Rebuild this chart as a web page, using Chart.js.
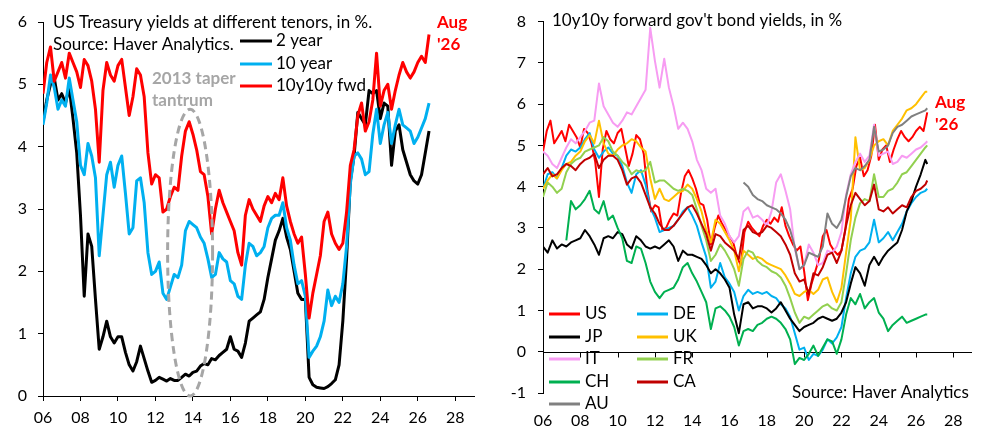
<!DOCTYPE html>
<html>
<head>
<meta charset="utf-8">
<script src="https://cdn.jsdelivr.net/npm/chart.js@4.4.1/dist/chart.umd.min.js"></script>
<style>
  html, body { margin:0; padding:0; background:#fff; }
  #wrap { position:relative; width:985px; height:439px; overflow:hidden; }
  .panel { position:absolute; top:0; width:490px; height:439px; }
  #left { left:0; }
  #right { left:495px; }
</style>
</head>
<body>
<div id="wrap">
  <div class="panel" id="left"><canvas id="ust" width="490" height="439" style="width:490px;height:439px"></canvas></div>
  <div class="panel" id="right"><canvas id="fwd" width="490" height="439" style="width:490px;height:439px"></canvas></div>
</div>
<script>
// --- Data ---

// left panel: US Treasury yields, one row per year
const ustYears = [
  2006, 2006.2, 2006.4, 2006.6, 2006.8,
  2007, 2007.2, 2007.4, 2007.6, 2007.8,
  2008, 2008.2, 2008.4, 2008.6, 2008.8,
  2009, 2009.2, 2009.4, 2009.6, 2009.8,
  2010, 2010.2, 2010.4, 2010.6, 2010.8,
  2011, 2011.2, 2011.4, 2011.6, 2011.8,
  2012, 2012.2, 2012.4, 2012.6, 2012.8,
  2013, 2013.2, 2013.4, 2013.6, 2013.8,
  2014, 2014.2, 2014.4, 2014.6, 2014.8,
  2015, 2015.2, 2015.4, 2015.6, 2015.8,
  2016, 2016.2, 2016.4, 2016.6, 2016.8,
  2017, 2017.2, 2017.4, 2017.6, 2017.8,
  2018, 2018.2, 2018.4, 2018.6, 2018.8,
  2019, 2019.2, 2019.4, 2019.6, 2019.8,
  2020, 2020.2, 2020.4, 2020.6, 2020.8,
  2021, 2021.2, 2021.4, 2021.6, 2021.8,
  2022, 2022.2, 2022.4, 2022.6, 2022.8,
  2023, 2023.2, 2023.4, 2023.6, 2023.8,
  2024, 2024.2, 2024.4, 2024.6, 2024.8,
  2025, 2025.2, 2025.4, 2025.6, 2025.8,
  2026, 2026.2, 2026.4, 2026.6
];
const ust2y = [
  4.40, 4.75, 5.00, 5.10, 4.75,
  4.85, 4.70, 4.95, 4.45, 3.90,
  2.90, 1.60, 2.60, 2.40, 1.55,
  0.75, 0.95, 1.20, 0.95, 0.85,
  0.95, 0.95, 0.70, 0.50, 0.40,
  0.55, 0.80, 0.60, 0.40, 0.22,
  0.25, 0.30, 0.27, 0.24, 0.28,
  0.25, 0.25, 0.30, 0.35, 0.32,
  0.38, 0.40, 0.48, 0.52, 0.50,
  0.60, 0.58, 0.65, 0.70, 0.75,
  0.95, 0.75, 0.72, 0.62, 0.85,
  1.20, 1.25, 1.30, 1.35, 1.55,
  1.90, 2.20, 2.50, 2.65, 2.85,
  2.55, 2.35, 2.00, 1.65, 1.55,
  1.55, 0.30, 0.18, 0.14, 0.13,
  0.12, 0.15, 0.20, 0.26, 0.50,
  1.20, 2.20, 3.45, 3.85, 4.55,
  4.45, 4.35, 4.90, 4.85, 4.90,
  4.45, 4.70, 4.65, 3.70, 4.25,
  4.35, 3.95, 3.75, 3.55, 3.45,
  3.40, 3.55, 3.90, 4.25
];
const ust10y = [
  4.35, 4.70, 5.15, 4.95, 4.60,
  4.75, 4.65, 5.10, 4.75, 4.40,
  3.70, 3.55, 4.05, 3.85, 3.50,
  2.25, 2.90, 3.55, 3.75, 3.35,
  3.70, 3.85, 3.25, 2.60, 2.70,
  3.45, 3.50, 3.10, 2.30, 1.95,
  2.00, 2.15, 1.65, 1.55, 1.75,
  1.95, 1.90, 2.10, 2.65, 2.80,
  2.75, 2.70, 2.55, 2.45, 2.20,
  1.90, 1.95, 2.30, 2.20, 2.15,
  1.85, 1.80, 1.60, 1.55, 2.10,
  2.45, 2.40, 2.25, 2.30, 2.40,
  2.70, 2.85, 2.90, 2.90, 3.10,
  2.70, 2.50, 2.10, 1.80, 1.85,
  1.60, 0.62, 0.72, 0.80, 0.95,
  1.20, 1.70, 1.45, 1.60, 1.50,
  1.80, 2.40, 3.40, 3.85, 3.90,
  3.80, 3.55, 3.60, 4.20, 4.60,
  4.05, 4.35, 4.55, 4.05, 4.35,
  4.60, 4.35, 4.30, 4.25, 4.05,
  4.15, 4.30, 4.45, 4.70
];
const ust10y10y = [
  4.85, 5.35, 5.60, 5.05, 5.20,
  5.35, 5.10, 5.50, 5.35, 5.20,
  4.95, 5.40, 5.30, 5.05, 4.60,
  3.75, 4.90, 5.35, 5.15, 5.05,
  5.30, 5.40, 4.95, 4.50, 4.80,
  5.25, 5.15, 4.80, 3.90, 3.40,
  3.55, 3.50, 2.95, 3.00, 3.20,
  3.35, 3.30, 3.85, 4.25, 4.40,
  4.20, 3.95, 3.60, 3.55, 3.20,
  2.60, 3.00, 3.30, 3.10, 2.95,
  2.80, 2.65, 2.30, 2.10, 2.90,
  3.15, 3.00, 2.90, 2.80, 3.05,
  3.20, 3.10, 3.25, 3.15, 3.50,
  3.05, 2.80, 2.60, 2.45, 2.55,
  1.95, 1.25, 1.65, 1.95, 2.25,
  2.80, 2.95, 2.60, 2.45, 2.35,
  2.45, 2.95, 3.70, 3.95, 4.50,
  4.70, 4.25, 4.40, 4.75, 5.50,
  4.65, 4.90, 5.00, 4.60, 4.90,
  5.15, 5.35, 5.20, 5.10, 5.20,
  5.35, 5.45, 5.35, 5.80
];

// right panel: 10y10y forwards, quarterly, one row per year (US reuses ust10y10y)
const fwdYears = [
  2006, 2006.25, 2006.5, 2006.75,
  2007, 2007.25, 2007.5, 2007.75,
  2008, 2008.25, 2008.5, 2008.75,
  2009, 2009.25, 2009.5, 2009.75,
  2010, 2010.25, 2010.5, 2010.75,
  2011, 2011.25, 2011.5, 2011.75,
  2012, 2012.25, 2012.5, 2012.75,
  2013, 2013.25, 2013.5, 2013.75,
  2014, 2014.25, 2014.5, 2014.75,
  2015, 2015.25, 2015.5, 2015.75,
  2016, 2016.25, 2016.5, 2016.75,
  2017, 2017.25, 2017.5, 2017.75,
  2018, 2018.25, 2018.5, 2018.75,
  2019, 2019.25, 2019.5, 2019.75,
  2020, 2020.25, 2020.5, 2020.75,
  2021, 2021.25, 2021.5, 2021.75,
  2022, 2022.25, 2022.5, 2022.75,
  2023, 2023.25, 2023.5, 2023.75,
  2024, 2024.25, 2024.5, 2024.75,
  2025, 2025.25, 2025.5, 2025.75,
  2026, 2026.25, 2026.5, 2026.6
];
const fwdDE = [
  3.95, 4.30, 4.35, 4.20,
  4.45, 4.75, 4.90, 4.85,
  4.95, 5.15, 5.30, 4.90,
  4.70, 4.85, 4.95, 4.80,
  4.75, 4.50, 4.10, 3.85,
  4.30, 4.40, 4.05, 3.50,
  3.25, 2.90, 2.95, 3.00,
  3.05, 3.20, 3.40, 3.50,
  3.30, 3.05, 2.65, 2.30,
  1.55, 1.70, 2.15, 1.80,
  1.65, 1.45, 1.00, 1.35,
  1.50, 1.40, 1.45, 1.40,
  1.45, 1.35, 1.30, 1.15,
  1.05, 0.85, 0.45, 0.05,
  0.10, -0.20, -0.05, -0.10,
  0.05, 0.30, 0.20, 0.35,
  0.60, 1.30, 1.90, 2.30,
  2.45, 2.50, 2.65, 3.20,
  2.65, 2.75, 2.90, 2.70,
  2.90, 3.10, 3.40, 3.60,
  3.75, 3.85, 3.90, 3.95
];
const fwdJP = [
  2.55, 2.40, 2.70, 2.50,
  2.60, 2.55, 2.65, 2.70,
  2.75, 2.95, 2.80, 2.60,
  2.35, 2.75, 2.80, 2.75,
  2.90, 2.85, 2.60, 2.50,
  2.80, 2.70, 2.55, 2.50,
  2.55, 2.50, 2.60, 2.70,
  2.55, 2.20, 2.45, 2.35,
  2.35, 2.30, 2.25, 2.10,
  1.90, 2.00, 1.90, 1.75,
  1.55, 0.90, 0.45, 1.15,
  1.20, 1.05, 1.10, 1.10,
  1.05, 0.95, 1.05, 1.20,
  1.00, 0.80, 0.65, 0.50,
  0.60, 0.65, 0.70, 0.80,
  0.85, 0.80, 0.75, 0.80,
  0.95, 1.20, 1.65, 2.05,
  1.90, 1.60, 2.10, 2.30,
  2.10, 2.30, 2.45, 2.55,
  2.65, 2.95, 3.40, 3.65,
  4.00, 4.30, 4.65, 4.55
];
const fwdUK = [
  3.95, 4.15, 4.30, 4.20,
  4.40, 4.55, 4.60, 4.75,
  4.85, 5.10, 5.25, 5.05,
  5.60, 5.05, 4.80, 4.75,
  4.90, 5.00, 5.05, 5.15,
  5.10, 4.95, 4.85, 4.20,
  3.70, 3.95, 3.70, 3.65,
  3.75, 3.85, 3.90, 4.05,
  3.95, 3.70, 3.40, 2.95,
  2.65, 3.20, 3.10, 2.90,
  2.70, 2.45, 1.95, 2.45,
  2.35, 2.25, 2.30, 2.25,
  2.15, 2.10, 2.05, 2.00,
  1.85, 1.65, 1.40, 1.35,
  1.45, 1.50, 1.40, 1.50,
  1.75, 1.80, 1.45, 1.20,
  1.55, 2.40, 3.20, 5.20,
  4.40, 4.45, 4.65, 5.00,
  5.10, 5.15, 5.00, 5.35,
  5.50, 5.65, 5.85, 5.90,
  6.00, 6.15, 6.30, 6.30
];
const fwdIT = [
  4.85, 4.75, 4.55, 4.45,
  4.70, 4.95, 5.15, 5.05,
  5.20, 5.35, 5.55, 5.60,
  6.50, 5.95, 5.75, 5.55,
  5.45, 5.60, 5.80, 5.75,
  5.95, 6.15, 6.35, 7.85,
  7.05, 6.40, 7.10, 6.40,
  5.95, 5.40, 5.55, 5.40,
  5.10, 4.65, 4.40, 3.95,
  3.85, 3.95, 3.30, 3.10,
  2.80, 2.65, 2.80, 3.40,
  3.50, 3.25, 3.30, 3.20,
  3.05, 3.40, 4.10, 4.30,
  3.90, 3.45, 2.50, 2.00,
  2.10, 2.60, 2.40, 2.10,
  2.15, 2.45, 2.40, 2.55,
  2.90, 3.80, 4.30, 4.60,
  4.80, 4.60, 4.75, 5.50,
  4.75, 4.80, 4.85, 4.55,
  4.60, 4.75, 4.70, 4.80,
  4.90, 4.95, 5.05, 5.10
];
const fwdFR = [
  3.75, 4.10, 4.00, 3.85,
  3.95, 4.35, 4.55, 4.65,
  4.70, 4.85, 4.90, 4.95,
  5.00, 5.20, 5.10, 4.85,
  4.75, 4.60, 4.50, 4.30,
  4.40, 4.35, 4.40, 4.60,
  4.10, 4.15, 4.15, 4.05,
  3.95, 3.90, 3.95, 3.90,
  3.80, 3.45, 3.05, 2.70,
  2.20, 2.35, 2.60, 2.45,
  2.25, 2.00, 1.60, 2.25,
  2.45, 2.40, 2.20, 2.10,
  2.05, 1.95, 1.90, 1.80,
  1.60, 1.30, 0.95, 0.70,
  0.85, 0.80, 0.90, 1.00,
  1.10, 1.15, 1.05, 1.00,
  1.20, 1.90, 2.70, 3.25,
  3.60, 3.70, 3.65, 4.30,
  3.75, 3.75, 3.90, 3.95,
  4.10, 4.30, 4.35, 4.50,
  4.65, 4.80, 4.95, 5.00
];
const fwdCH = [
  null, null, null, null,
  null, 2.70, 3.65, 3.45,
  3.55, 3.70, 3.90, 3.45,
  3.35, 3.65, 3.20, 3.30,
  3.00, 2.75, 2.20, 2.15,
  2.55, 2.50, 2.15, 1.70,
  1.45, 1.30, 1.45, 1.50,
  1.55, 1.75, 2.05, 2.15,
  1.90, 1.70, 1.45, 1.20,
  0.55, 1.05, 1.10, 1.00,
  0.85, 0.60, 0.15, 0.50,
  0.55, 0.50, 0.65, 0.70,
  0.80, 0.85, 0.80, 0.70,
  0.55, 0.30, -0.30, -0.15,
  -0.20, -0.05, 0.15, -0.10,
  0.10, 0.30, 0.25, -0.05,
  0.30, 0.90, 1.30, 1.15,
  1.40, 1.05, 1.20, 1.30,
  0.95, 0.80, 0.50, 0.65,
  0.75, 0.85, 0.70, 0.75,
  0.80, 0.85, 0.90, 0.90
];
const fwdCA = [
  4.30, 4.45, 4.25, 4.30,
  4.45, 4.55, 4.50, 4.40,
  4.55, 4.65, 4.70, 4.80,
  4.45, 4.65, 4.75, 4.75,
  4.65, 4.40, 4.05, 4.20,
  4.25, 4.10, 3.80, 3.50,
  3.35, 3.10, 2.95, 2.95,
  3.05, 3.20, 3.35, 3.50,
  3.55, 3.35, 3.10, 2.85,
  2.45, 2.85, 2.80, 2.65,
  2.55, 2.45, 2.25, 2.95,
  3.05, 2.90, 2.85, 2.90,
  3.05, 3.00, 2.90, 2.80,
  2.60, 2.35, 1.90, 1.70,
  1.75, 1.40, 1.90, 1.85,
  2.05, 2.35, 2.40, 2.15,
  2.45, 3.05, 3.55, 3.85,
  3.70, 3.55, 3.65, 4.05,
  3.45, 3.40, 3.50, 3.35,
  3.45, 3.55, 3.50, 3.75,
  3.90, 3.95, 4.05, 4.15
];
const fwdAU = [
  null, null, null, null,
  null, null, null, null,
  null, null, null, null,
  null, null, null, null,
  null, null, null, null,
  null, null, null, null,
  null, null, null, null,
  null, null, null, null,
  null, null, null, null,
  null, null, null, null,
  null, null, null, 4.10,
  4.00, 3.80, 3.70, 3.65,
  3.55, 3.50, 3.45, 3.35,
  3.20, 2.95, 2.55, 2.00,
  2.10, 2.40, 2.35, 2.30,
  2.55, 3.35, 3.10, 3.00,
  3.20, 3.75, 4.25, 4.45,
  4.40, 4.50, 4.65, 5.45,
  4.85, 4.90, 5.00, 5.30,
  5.45, 5.50, 5.60, 5.70,
  5.75, 5.80, 5.85, 5.90
];

const xTickYears = [2006, 2008, 2010, 2012, 2014, 2016, 2018, 2020, 2022, 2024, 2026, 2028];
const ustYTicks = [0, 1, 2, 3, 4, 5, 6];
const fwdYTicks = [-1, 0, 1, 2, 3, 4, 5, 6, 7, 8];

// dashed "taper tantrum" ellipse, in data units
const taper = { x: 2013.85, y: 2.3, rx: 1.2, ry: 2.3 };

// --- Helpers ---
const FONT = 'Lato, "Open Sans", sans-serif';
const TXT = `17px ${FONT}`;
const BOLD = `bold 17px ${FONT}`;
const pairs = (xs, ys) => xs.map((x, i) => ({ x, y: ys[i] }));
const twoDigit = (v) => String(v).slice(2);

const notesPlugin = {
  id: 'notes',
  afterDraw(chart, args, opts){
    const ctx = chart.ctx;
    (opts.items || []).forEach(t => {
      ctx.save();
      ctx.font = t.font || TXT;
      ctx.fillStyle = t.color || '#000';
      ctx.textAlign = 'left'; ctx.textBaseline = 'middle';
      ctx.fillText(t.text, t.x, t.y);
      ctx.restore();
    });
  }
};

const keyPlugin = {
  id: 'key',
  afterDraw(chart, args, opts){
    const ctx = chart.ctx;
    (opts.items || []).forEach(k => {
      const ds = chart.data.datasets[k.ds];
      ctx.save();
      ctx.strokeStyle = ds.borderColor; ctx.lineWidth = opts.lineWidth;
      ctx.beginPath(); ctx.moveTo(k.x, k.y); ctx.lineTo(k.x + opts.len, k.y); ctx.stroke();
      ctx.font = opts.font; ctx.fillStyle = '#000';
      ctx.textAlign = 'left'; ctx.textBaseline = 'middle';
      ctx.fillText(ds.label, k.x + opts.len + opts.gap, k.y);
      ctx.restore();
    });
  }
};

const taperPlugin = {
  id: 'taper',
  afterDatasetsDraw(chart){
    const { x, y } = chart.scales; const ctx = chart.ctx;
    const cx = x.getPixelForValue(taper.x), cy = y.getPixelForValue(taper.y);
    const rx = Math.abs(x.getPixelForValue(taper.x + taper.rx) - cx);
    const ry = Math.abs(y.getPixelForValue(taper.y + taper.ry) - cy);
    ctx.save();
    ctx.setLineDash([8, 5]); ctx.lineWidth = 3; ctx.strokeStyle = '#A6A6A6';
    ctx.beginPath(); ctx.ellipse(cx, cy, rx, ry, 0, 0, Math.PI * 2); ctx.stroke();
    ctx.restore();
  }
};

// right panel: horizontal axis sits at y = 0, labels stay at the bottom
const zeroAxisPlugin = {
  id: 'zeroAxis',
  beforeDatasetsDraw(chart){
    const { x, y } = chart.scales; const ctx = chart.ctx;
    const y0 = Math.round(y.getPixelForValue(0)) + 0.5;
    ctx.save();
    ctx.strokeStyle = '#000'; ctx.lineWidth = 1;
    ctx.beginPath();
    ctx.moveTo(chart.chartArea.left, y0); ctx.lineTo(chart.chartArea.right, y0);
    xTickYears.forEach(v => {
      const px = Math.round(x.getPixelForValue(v)) + 0.5;
      ctx.moveTo(px, y0); ctx.lineTo(px, y0 + 5);
    });
    ctx.stroke();
    ctx.restore();
  }
};

function yAxis(min, max, ticks, width, pad){
  return {
    type: 'linear', min, max,
    afterBuildTicks: s => { s.ticks = ticks.map(v => ({ value: v })); },
    afterFit: s => { s.width = width; },
    ticks: { color: '#000', font: { family: FONT, size: 16 }, padding: pad },
    grid: { drawOnChartArea: false, drawTicks: true, tickLength: 5, color: '#000' },
    border: { display: true, color: '#000', width: 1 }
  };
}

function lineSet(label, xs, ys, color, width, order){
  return {
    label, data: pairs(xs, ys), borderColor: color, backgroundColor: color,
    borderWidth: width, pointRadius: 0, tension: 0, fill: false, order,
    borderJoinStyle: 'round', spanGaps: false
  };
}

const baseOptions = {
  responsive: false, animation: false,
  events: [],
  plugins: { legend: { display: false }, tooltip: { enabled: false }, title: { display: false } }
};

// -------- Left: US Treasury yields --------
new Chart(document.getElementById('ust'), {
  type: 'line',
  data: { datasets: [
    lineSet('2 year', ustYears, ust2y, '#000000', 3, 0),
    lineSet('10 year', ustYears, ust10y, '#00B0F0', 3, -1),
    lineSet('10y10y fwd', ustYears, ust10y10y, '#FF0000', 3, -2)
  ]},
  options: {
    ...baseOptions,
    layout: { padding: { top: 22, right: 16, left: 0, bottom: 0 } },
    scales: {
      x: {
        type: 'linear', min: 2006, max: 2029,
        afterBuildTicks: s => { s.ticks = xTickYears.map(v => ({ value: v })); },
        afterFit: s => { s.height = 43; },
        ticks: { color: '#000', font: { family: FONT, size: 16 }, padding: 7, maxRotation: 0, autoSkip: false, callback: twoDigit },
        grid: { drawOnChartArea: false, drawTicks: true, tickLength: 5, color: '#000' },
        border: { display: true, color: '#000', width: 1 }
      },
      y: yAxis(0, 6, ustYTicks, 43, 11)
    },
    plugins: {
      ...baseOptions.plugins,
      notes: { items: [
        { text: 'US Treasury yields at different tenors, in %.', x: 53, y: 23 },
        { text: 'Source: Haver Analytics.', x: 53, y: 45 },
        { text: '2013 taper', x: 152, y: 79, color: '#A6A6A6', font: BOLD },
        { text: 'tantrum', x: 152, y: 101, color: '#A6A6A6', font: BOLD },
        { text: 'Aug', x: 437, y: 23, color: '#FF0000', font: BOLD },
        { text: "'26", x: 437, y: 45, color: '#FF0000', font: BOLD }
      ]},
      key: {
        len: 32, gap: 4, lineWidth: 3, font: TXT,
        items: [ { ds: 0, x: 240, y: 41 }, { ds: 1, x: 240, y: 64 }, { ds: 2, x: 240, y: 86 } ]
      }
    }
  },
  plugins: [taperPlugin, keyPlugin, notesPlugin]
});

// -------- Right: 10y10y forwards --------
const fwdColors = {
  US: '#FF0000', DE: '#00B0F0', JP: '#000000', UK: '#FFC000', IT: '#F79CF2',
  FR: '#92D050', CH: '#00B050', CA: '#C00000', AU: '#808080'
};

new Chart(document.getElementById('fwd'), {
  type: 'line',
  data: { datasets: [
    lineSet('US', ustYears, ust10y10y, fwdColors.US, 2, 0),
    lineSet('DE', fwdYears, fwdDE, fwdColors.DE, 2, -1),
    lineSet('JP', fwdYears, fwdJP, fwdColors.JP, 2, -2),
    lineSet('UK', fwdYears, fwdUK, fwdColors.UK, 2, -3),
    lineSet('IT', fwdYears, fwdIT, fwdColors.IT, 2, -4),
    lineSet('FR', fwdYears, fwdFR, fwdColors.FR, 2, -5),
    lineSet('CH', fwdYears, fwdCH, fwdColors.CH, 2, -6),
    lineSet('CA', fwdYears, fwdCA, fwdColors.CA, 2, -7),
    lineSet('AU', fwdYears, fwdAU, fwdColors.AU, 2, -8)
  ]},
  options: {
    ...baseOptions,
    layout: { padding: { top: 19, right: 13, left: 0, bottom: 0 } },
    scales: {
      x: {
        type: 'linear', min: 2006, max: 2029,
        afterBuildTicks: s => { s.ticks = xTickYears.map(v => ({ value: v })); },
        afterFit: s => { s.height = 46; },
        ticks: { color: '#000', font: { family: FONT, size: 16 }, padding: 18, maxRotation: 0, autoSkip: false, callback: twoDigit },
        grid: { display: false, drawTicks: false },
        border: { display: false }
      },
      y: yAxis(-1, 8, fwdYTicks, 48, 12)
    },
    plugins: {
      ...baseOptions.plugins,
      notes: { items: [
        { text: "10y10y forward gov't bond yields, in %", x: 57, y: 21 },
        { text: 'Source: Haver Analytics', x: 297, y: 393 },
        { text: 'Aug', x: 440, y: 103, color: '#FF0000', font: BOLD },
        { text: "'26", x: 440, y: 125, color: '#FF0000', font: BOLD }
      ]},
      key: {
        len: 31, gap: 5, lineWidth: 3, font: TXT,
        items: [
          { ds: 0, x: 54, y: 314 }, { ds: 1, x: 142, y: 314 },
          { ds: 2, x: 54, y: 337 }, { ds: 3, x: 142, y: 337 },
          { ds: 4, x: 54, y: 359 }, { ds: 5, x: 142, y: 359 },
          { ds: 6, x: 54, y: 382 }, { ds: 7, x: 142, y: 382 },
          { ds: 8, x: 54, y: 404 }
        ]
      }
    }
  },
  plugins: [zeroAxisPlugin, keyPlugin, notesPlugin]
});
</script>
</body>
</html>
